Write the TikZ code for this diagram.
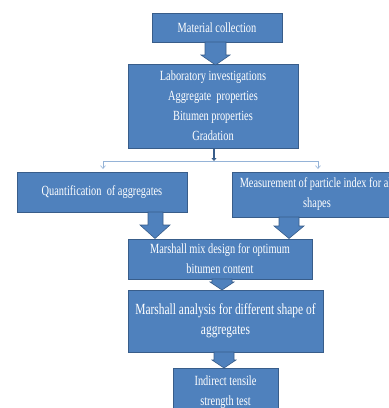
\documentclass[tikz,border=0pt]{standalone}
\usepackage{fontspec}
\setmainfont[FakeStretch=0.74]{Liberation Serif}
\usetikzlibrary{arrows.meta}
\definecolor{boxfill}{HTML}{4F81BD}
\definecolor{boxline}{HTML}{385D8A}
\definecolor{thinline}{HTML}{95B3D7}
\begin{document}
\begin{tikzpicture}[x=1pt,y=-1pt,
  stepbox/.style={draw=boxline,fill=boxfill,line width=0.8pt,text=white,inner sep=0pt,
    font=\fontsize{14}{20}\selectfont,align=center},
  blockarrow/.style={draw=boxline,fill=boxfill,line width=0.6pt},
  thin/.style={draw=thinline,line width=0.6pt},
  thinarrow/.style={thin,-{Straight Barb[length=3pt,width=5pt]}}]
\useasboundingbox (0,0) rectangle (389,408);
\begin{scope}
\clip (0,0) rectangle (389,408);
% boxes
\node[stepbox,minimum width=130pt,minimum height=29pt] (b1) at (217,27.5) {Material collection};
\node[stepbox,minimum width=170pt,minimum height=84pt] (b2) at (213,106) {Laboratory investigations\\Aggregate\ \ properties\\Bitumen properties\\Gradation};
\node[stepbox,minimum width=170pt,minimum height=40pt] (b3) at (102,192) {Quantification\ \ of aggregates};
\node[stepbox,minimum width=170pt,minimum height=45pt] (b4) at (317,194.5) {Measurement of particle index for all\\shapes};
\node[stepbox,minimum width=184pt,minimum height=40pt] (b5) at (220,259) {Marshall mix design for optimum\\bitumen content};
\node[stepbox,minimum width=195pt,minimum height=62pt] (b6) at (225.5,321) {\fontsize{15.5}{21}\selectfont Marshall analysis for different shape of\\\fontsize{15.5}{21}\selectfont aggregates};
\node[stepbox,minimum width=105pt,minimum height=48pt,anchor=north] (b7) at (225.5,368) {Indirect tensile\\strength test};
% block arrows
\draw[blockarrow] (205,42) -- (226,42) -- (226,55) -- (230,55) -- (215.5,65) -- (201,55) -- (205,55) -- cycle;
\draw[blockarrow] (148,212) -- (163,212) -- (163,225) -- (170,225) -- (155,238.5) -- (140,225) -- (148,225) -- cycle;
\draw[blockarrow] (279,217) -- (299,217) -- (299,226) -- (304,226) -- (289,238.5) -- (274,226) -- (279,226) -- cycle;
\draw[blockarrow] (212,279) -- (232,279) -- (232,282) -- (234,282) -- (222,290) -- (210,282) -- (212,282) -- cycle;
\draw[blockarrow] (214,352) -- (234,352) -- (234,360) -- (236,360) -- (224,368) -- (212,360) -- (214,360) -- cycle;
\end{scope}
% thin connectors
\coordinate (j) at (214,161);
\coordinate (jl) at (103,161);
\coordinate (jr) at (318,161);
\draw[draw=boxline,line width=1.4pt,-{Triangle[length=3pt,width=5pt]}] (b2.south -| j) -- (j);
\draw[thin] (jl) -- (jr);
\draw[thinarrow] (jl) -- (103,169);
\draw[thinarrow] (jr) -- (318,169);
\end{tikzpicture}
\end{document}
